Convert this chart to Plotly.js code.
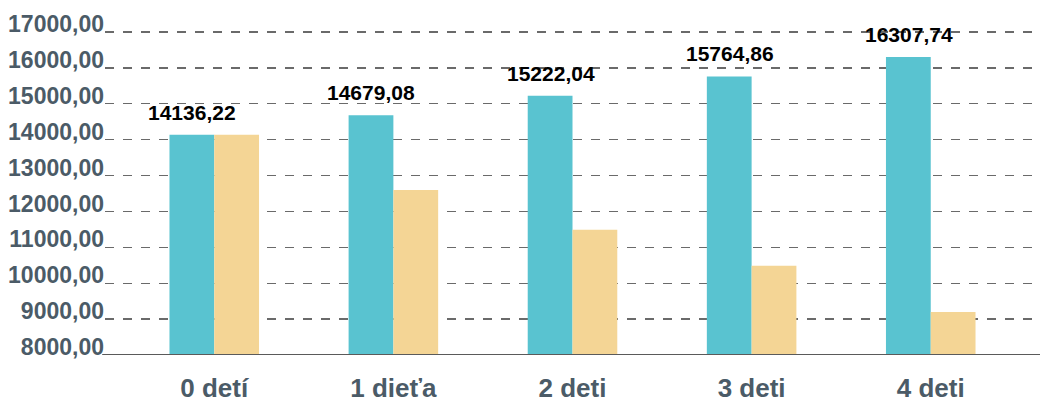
<!DOCTYPE html>
<html>
<head>
<meta charset="utf-8">
<script src="https://cdn.plot.ly/plotly-3.0.1.min.js"></script>
<style>html,body{margin:0;padding:0;background:#fff;}#chart{width:1040px;height:406px;}</style>
</head>
<body>
<div id="chart"></div>
<script>
const categories = ["0 detí", "1 dieťa", "2 deti", "3 deti", "4 deti"];
const seriesA = [14136.22, 14679.08, 15222.04, 15764.86, 16307.74];
const seriesB = [14136.22, 12600, 11490, 10490, 9200];
const yTickVals = [8000, 9000, 10000, 11000, 12000, 13000, 14000, 15000, 16000, 17000];

const fmt = v => v.toFixed(2).replace('.', ',');
const yTickText = yTickVals.map(fmt);

const tealColor = '#59C3D0';
const sandColor = '#F4D595';

const traces = [
  {type: 'bar', x: categories, y: seriesA, marker: {color: tealColor}, name: 'A', hoverinfo: 'none'},
  {type: 'bar', x: categories, y: seriesB, marker: {color: sandColor}, name: 'B', hoverinfo: 'none'}
];

const annotations = categories.map((c, i) => ({
  x: c, y: seriesA[i], xref: 'x', yref: 'y',
  text: fmt(seriesA[i]), showarrow: false,
  xanchor: 'center', yanchor: 'bottom', xshift: -22, yshift: 9,
  font: {family: 'Liberation Sans, Arial, sans-serif', size: 21, color: '#000', weight: 'bold'}
}));

const layout = {
  width: 1040, height: 406,
  margin: {l: 105, r: 0, t: 31, b: 51},
  paper_bgcolor: '#fff', plot_bgcolor: '#fff',
  showlegend: false,
  barmode: 'group',
  bargap: 0.5, bargroupgap: 0,
  xaxis: {
    type: 'category',
    range: [-0.61, 4.61],
    showgrid: false, zeroline: false,
    showline: false,
    ticks: '',
    automargin: false,
    tickfont: {family: 'Liberation Sans, Arial, sans-serif', size: 26, color: '#4B5B67', weight: 'bold'},
    ticklabelstandoff: 15
  },
  yaxis: {
    range: [8000, 17030],
    tickvals: yTickVals, ticktext: yTickText,
    showgrid: true, gridcolor: '#6A6A6A', griddash: 'dash', gridwidth: 1.3,
    zeroline: false,
    showline: false,
    ticks: '',
    automargin: false,
    tickfont: {family: 'Liberation Sans, Arial, sans-serif', size: 23, color: '#4B5B67', weight: 'bold'},
    ticklabelstandoff: 0,
    ticklabelshift: -8
  },
  shapes: [{type: 'line', xref: 'paper', yref: 'y', x0: -0.003, x1: 1, y0: 8000, y1: 8000, line: {color: '#5A5A5A', width: 2}, layer: 'above'}],
  annotations: annotations
};

Plotly.newPlot('chart', traces, layout, {displayModeBar: false, staticPlot: true});
</script>
</body>
</html>
